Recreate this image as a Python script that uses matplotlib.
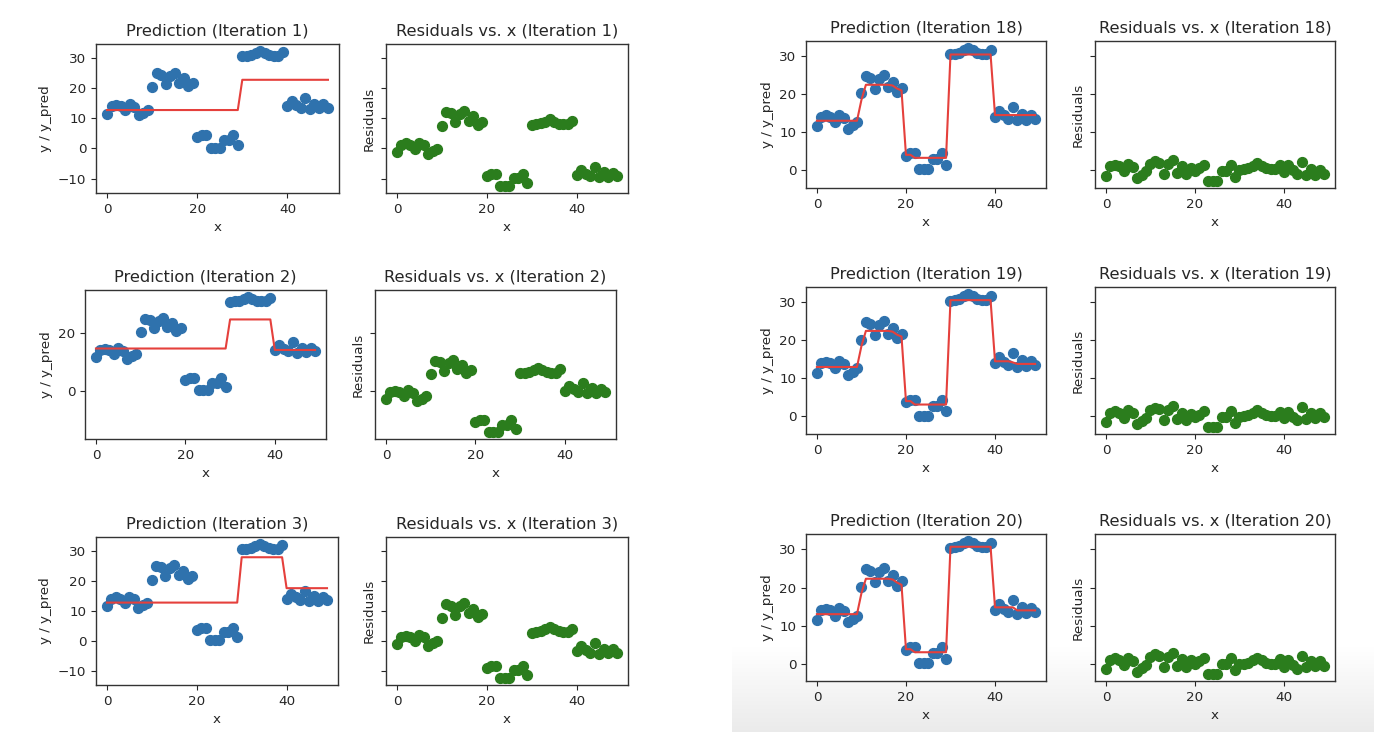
import numpy as np
import matplotlib
matplotlib.use("Agg")
import matplotlib.pyplot as plt

# ---------------- data ----------------
x = list(range(50))
y = [11.5, 14.0, 14.4, 14.0, 12.6, 14.6, 13.8, 10.9, 11.8, 12.6,
     20.2, 24.8, 24.4, 21.4, 24.1, 25.1, 21.8, 23.3, 20.5, 21.6,
     3.7, 4.4, 4.4, 0.2, 0.2, 0.2, 2.8, 2.8, 4.4, 1.3,
     30.5, 30.7, 31.0, 31.6, 32.3, 31.6, 30.9, 30.7, 30.7, 31.8,
     14.0, 15.7, 14.4, 13.5, 16.7, 13.1, 14.8, 13.3, 14.6, 13.5]

pred_it1 = [12.7] * 30 + [22.7] * 20
pred_it2 = [14.5] * 30 + [24.5] * 10 + [14.0] * 10
pred_it3 = [12.7] * 30 + [27.8] * 10 + [17.5] * 10
pred_it18 = ([13.0] * 10 + [18.5] + [22.5] * 6 + [22.3, 21.5, 21.0]
             + [4.0, 4.0] + [3.2] * 8 + [30.5] * 10 + [14.5] * 10)
pred_it19 = ([13.0] * 10 + [18.5] + [22.5] * 6 + [22.3, 21.5, 21.0]
             + [4.0, 4.0] + [3.1] * 8 + [30.6] * 10 + [14.5] * 4 + [14.2] + [13.8] * 5)
pred_it20 = ([13.0] * 10 + [18.5] + [22.3] * 6 + [22.1, 21.3, 20.7]
             + [3.8, 3.8] + [3.0] * 8 + [30.7] * 10 + [14.8] * 5 + [14.0] * 5)

iterations = [1, 2, 3, 18, 19, 20]
preds = [pred_it1, pred_it2, pred_it3, pred_it18, pred_it19, pred_it20]
yticks_sets = [[-10, 0, 10, 20, 30], [0, 20], [-10, 0, 10, 20, 30],
               [0, 10, 20, 30], [0, 10, 20, 30], [0, 10, 20, 30]]
xticks = [0, 20, 40]

# ---------------- layout (pixel boxes: left, right, top, bottom) ----------------
W, H = 1374, 732
pred_boxes = [(96, 339, 44, 193), (85, 326, 290, 439), (96, 338, 537, 685),
              (806, 1046, 41, 188), (806, 1046, 287, 434), (806, 1046, 534, 681)]
res_boxes = [(386, 628, 44, 193), (375, 616, 290, 439), (386, 628, 537, 685),
             (1095, 1335, 41, 188), (1095, 1335, 287, 434), (1095, 1335, 534, 681)]

TXT = '#262626'
plt.rcParams.update({
    'font.family': ['DejaVu Sans'],
    'text.color': TXT,
    'axes.labelcolor': TXT,
    'xtick.color': TXT,
    'ytick.color': TXT,
    'axes.edgecolor': '#333333',
    'axes.linewidth': 1.0,
})

fig = plt.figure(figsize=(W / 100, H / 100), dpi=100)
fig.patch.set_facecolor('white')

# light gray gradient at the bottom of the right screenshot
bg = fig.add_axes([732 / W, 0, (W - 732) / W, 85 / H], zorder=-5)
grad = np.linspace(1.0, 0.92, 100) ** 1.0
grad = grad.reshape(-1, 1)
bg.imshow(np.dstack([grad, grad, grad]), aspect='auto', extent=[0, 1, 0, 1],
          origin='upper', interpolation='bilinear')
bg.set_axis_off()


def rect(box):
    l, r, t, b = box
    return [l / W, 1 - b / H, (r - l) / W, (b - t) / H]


TFS, LFS = 11.7, 9.7
for it, pr, yt, pb, rb in zip(iterations, preds, yticks_sets, pred_boxes, res_boxes):
    ax = fig.add_axes(rect(pb))
    ax2 = fig.add_axes(rect(rb), sharey=ax)
    resid = [yy - pp for yy, pp in zip(y, pr)]

    ax.scatter(x, y, s=50, color='#2f72ad', zorder=2)
    ax.plot(x, pr, color='#e5403c', lw=1.5, zorder=3)
    ax.set_title(f'Prediction (Iteration {it})', fontsize=TFS)
    ax.set_xlabel('x', fontsize=LFS)
    ax.set_ylabel('y / y_pred', fontsize=LFS)

    ax2.scatter(x, resid, s=50, color='#2b7d1d', zorder=2)
    ax2.set_title(f'Residuals vs. x (Iteration {it})', fontsize=TFS)
    ax2.set_xlabel('x', fontsize=LFS)
    ax2.set_ylabel('Residuals', fontsize=LFS)

    for a in (ax, ax2):
        a.set_xticks(xticks)
        a.tick_params(labelsize=LFS)
    ax.set_yticks(yt)
    ax2.tick_params(labelleft=False)

fig.savefig('out.png', dpi=100)
